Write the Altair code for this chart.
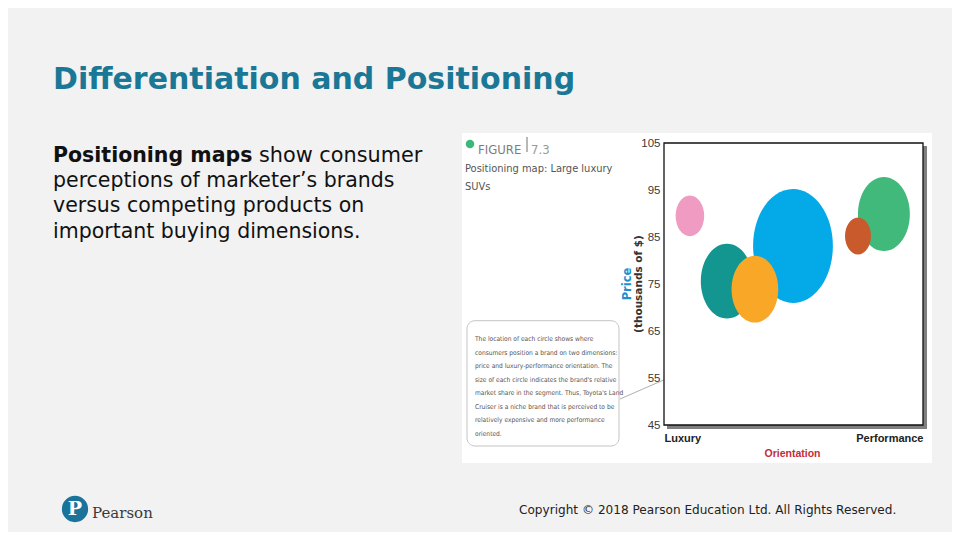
import altair as alt
import pandas as pd

# ---------------- data ----------------
brands = ["Brand A", "Brand B", "Brand C", "Brand D", "Brand E", "Toyota Land Cruiser"]
orientation = [1.0, 2.43, 4.98, 8.49, 3.51, 7.49]      # 0 = Luxury, 10 = Performance
price = [89.5, 75.6, 83.1, 89.9, 73.9, 85.2]            # thousands of $
share = [4.5, 15.0, 35.0, 14.8, 12.0, 3.7]              # relative market share
colors = ["#f09cc2", "#12968f", "#04a9e8", "#40b97a", "#f8a826", "#c95a2c"]
price_ticks = [45, 55, 65, 75, 85, 95, 105]

title_text = "Differentiation and Positioning"
body_bold = "Positioning maps"
body_line1 = "show consumer"
body_rest = ["perceptions of marketer\u2019s brands",
             "versus competing products on",
             "important buying dimensions."]
fig_caption = ["Positioning map: Large luxury", "SUVs"]
note_lines = ["The location of each circle shows where",
              "consumers position a brand on two dimensions:",
              "price and luxury-performance orientation. The",
              "size of each circle indicates the brand's relative",
              "market share in the segment. Thus, Toyota's Land",
              "Cruiser is a niche brand that is perceived to be",
              "relatively expensive and more performance",
              "oriented."]
copyright_text = "Copyright \u00a9 2018 Pearson Education Ltd. All Rights Reserved."

df = pd.DataFrame({"brand": brands, "orientation": orientation,
                   "price": price, "share": share})
one = pd.DataFrame({"k": [0]})

W, H = 259, 282
NARROW = "Liberation Sans Narrow, Arial Narrow, DejaVu Sans Condensed, sans-serif"
ARIAL = "Liberation Sans, Arial, sans-serif"
ELLIPSE = ("M 0.7 0 C 0.7 0.5523 0.3866 1 0 1 C -0.3866 1 -0.7 0.5523 -0.7 0 "
           "C -0.7 -0.5523 -0.3866 -1 0 -1 C 0.3866 -1 0.7 -0.5523 0.7 0 Z")


def txt(text, x, y, **kw):
    return alt.Chart(one).mark_text(**kw).encode(
        x=alt.value(x), y=alt.value(y), text=alt.value(text))


def box(x, x2, y, y2, **kw):
    return alt.Chart(one).mark_rect(**kw).encode(
        x=alt.value(x), x2=alt.value(x2), y=alt.value(y), y2=alt.value(y2))


# slide texts
title = txt(title_text, -611, -63.5, align="left", font="DejaVu Sans",
            fontWeight="bold", fontSize=30, color="#1a7896")
b1 = txt(body_bold, -611, 12.7, align="left", font="DejaVu Sans",
         fontWeight="bold", fontSize=20.5, color="#111111")
b2 = txt(body_line1, -405, 12.7, align="left", font="DejaVu Sans",
         fontSize=20.8, color="#111111")
b3 = txt(body_rest, -611, 38.1, align="left", font="DejaVu Sans",
         fontSize=20.5, lineHeight=25.4, color="#111111")

# figure panel
panel = box(-202, 268, -10, 320, color="white")
dot = alt.Chart(one).mark_point(filled=True, shape="circle", size=72,
                                color="#3cb878", opacity=1).encode(
    x=alt.value(-194), y=alt.value(1))
fig_lbl = txt("FIGURE", -186, 7, align="left", font=NARROW, fontSize=13,
              color="#7d7d7d")
fig_bar = alt.Chart(one).mark_rule(color="#888888", strokeWidth=1.2).encode(
    x=alt.value(-137), y=alt.value(-6), y2=alt.value(9))
fig_num = txt("7.3", -133, 7, align="left", font=NARROW, fontSize=13,
              color="#9a9a9a")
caption = txt(fig_caption, -199, 26.3, align="left", font=NARROW,
              fontSize=11, lineHeight=17.4, color="#555555")

note_box = box(-197, -45, 177.7, 303, fill="white", stroke="#c4c4c4",
               strokeWidth=1, cornerRadius=8)
note = txt(note_lines, -189, 196, align="left", font=NARROW, fontSize=6.6,
           lineHeight=13.5, color="#555555")
leader = alt.Chart(one).mark_rule(color="#9a9a9a", strokeWidth=0.8).encode(
    x=alt.value(-44), y=alt.value(256), x2=alt.value(18), y2=alt.value(229))
leader_dot = alt.Chart(one).mark_point(filled=True, shape="circle", size=5,
                                       color="#777777", opacity=1).encode(
    x=alt.value(18), y=alt.value(229))

# frame with shadow
shadow = box(3, W + 4, 3, H + 4, color="#555555", opacity=0.75)
frame = box(0, W, 0, H, fill="white", stroke="#111111", strokeWidth=1.3)

price_lbl = txt("Price", -36, 141, angle=270, align="center",
                baseline="middle", font="DejaVu Sans", fontWeight="bold",
                fontSize=11.5, color="#1e8fcf")
thou_lbl = txt("(thousands of $)", -25.5, 141, angle=270, align="center",
               baseline="middle", font="DejaVu Sans", fontWeight="bold",
               fontSize=10.5, color="#333333")
orient_lbl = txt("Orientation", 128.5, 311, align="center", font=ARIAL,
                 fontWeight="bold", fontSize=10.5, color="#c42b3c")

bubbles = alt.Chart(df).mark_point(filled=True, opacity=1, strokeWidth=0,
                                   shape=ELLIPSE).encode(
    x=alt.X("orientation:Q",
            scale=alt.Scale(domain=[0, 10], nice=False),
            axis=alt.Axis(values=[0, 10], title="", grid=False, domain=False,
                          ticks=False, tickSize=0, labelFlush=True,
                          labelPadding=7, zindex=2,
                          labelExpr="datum.value == 0 ? 'Luxury' : 'Performance'",
                          labelFont=ARIAL, labelFontWeight="bold",
                          labelFontSize=11, labelColor="#222222")),
    y=alt.Y("price:Q",
            scale=alt.Scale(domain=[45, 105], nice=False, zero=False),
            axis=alt.Axis(values=price_ticks, title="", grid=False,
                          domain=False, ticks=False, tickSize=0, zindex=2,
                          labelPadding=4, labelFont=ARIAL, labelFontSize=11.5,
                          labelColor="#3a3a3a")),
    color=alt.Color("brand:N", scale=alt.Scale(domain=brands, range=colors),
                    legend=None),
    size=alt.Size("share:Q", scale=alt.Scale(domain=[0, 35], range=[0, 12996]),
                  legend=None),
)

# Pearson footer
logo = alt.Chart(one).mark_point(filled=True, shape="circle", size=690,
                                 color="#19739b", opacity=1).encode(
    x=alt.value(-589), y=alt.value(366))
logo_p = txt("P", -589, 366, align="center", baseline="middle",
             font="DejaVu Serif", fontWeight="bold", fontSize=19, color="white")
pearson = txt("Pearson", -572, 370, align="left", font="DejaVu Serif",
              fontSize=15, color="#3a3a3a")
copyright_ = txt(copyright_text, -145, 367, align="left", font="DejaVu Sans",
                 fontSize=12.1, color="#222222")

chart = alt.layer(
    title, b1, b2, b3, panel, dot, fig_lbl, fig_bar, fig_num, caption,
    note_box, note, leader, leader_dot, shadow, frame, price_lbl, thou_lbl,
    orient_lbl, bubbles, logo, logo_p, pearson, copyright_
).properties(
    width=W, height=H,
    autosize=alt.AutoSizeParams(type="none"),
    padding={"left": 656, "top": 135, "right": 29, "bottom": 107},
).configure(background="#f2f2f2").configure_view(strokeWidth=0)

chart.save("out.html", embed_options={"renderer": "svg", "actions": False})
